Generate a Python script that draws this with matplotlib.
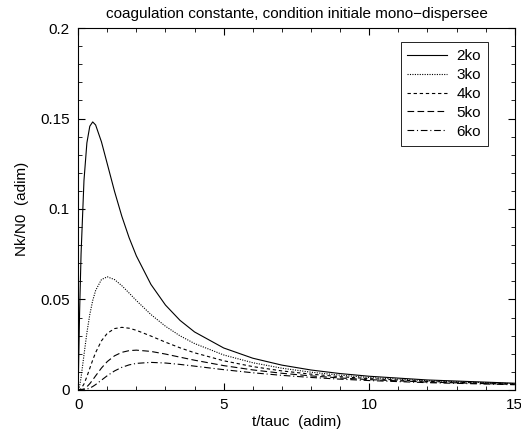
import numpy as np
import matplotlib
matplotlib.use('Agg')
import matplotlib.pyplot as plt
from matplotlib.ticker import MultipleLocator

plt.rcParams['font.family'] = ['Liberation Sans', 'DejaVu Sans']

# t/tauc sample points
t = [0, 0.05, 0.1, 0.2, 0.3, 0.4, 0.5, 0.6, 0.8, 1.0, 1.25, 1.5, 1.75, 2, 2.5,
     3, 3.5, 4, 5, 6, 7, 8, 9, 10, 12, 15]

# Nk/N0
n2 = [0, 0.04319, 0.07513, 0.11574, 0.13655, 0.14577, 0.14815, 0.14648, 0.13717,
      0.125, 0.10974, 0.096, 0.08415, 0.07407, 0.05831, 0.04688, 0.03841, 0.032,
      0.02315, 0.01749, 0.01367, 0.01097, 0.009, 0.007513, 0.005462, 0.003662]
n3 = [0, 0.002057, 0.00683, 0.01929, 0.03151, 0.04165, 0.04938, 0.05493, 0.06097,
      0.0625, 0.06097, 0.0576, 0.05355, 0.04938, 0.04165, 0.03516, 0.02987, 0.0256,
      0.01929, 0.01499, 0.01196, 0.00975, 0.0081, 0.00683, 0.005042, 0.003433]
n4 = [0, 0.0001, 0.000621, 0.003215, 0.007272, 0.0119, 0.01646, 0.0206, 0.0271,
      0.03125, 0.03387, 0.03456, 0.03408, 0.03292, 0.02975, 0.02637, 0.02323, 0.02048,
      0.01608, 0.01285, 0.01047, 0.00867, 0.00729, 0.006209, 0.004654, 0.003219]
n5 = [0, 0.000005, 0.000056, 0.000536, 0.001678, 0.0034, 0.005487, 0.007725, 0.01204,
      0.015625, 0.01882, 0.020736, 0.02168, 0.02195, 0.02125, 0.01978, 0.01807, 0.016384,
      0.0134, 0.01102, 0.00916, 0.00771, 0.006561, 0.005645, 0.004296, 0.003017]
n6 = [0, 0.0, 0.000005, 0.000089, 0.000387, 0.000971, 0.001829, 0.002897, 0.005352,
      0.0078125, 0.010454, 0.012442, 0.0138, 0.01463, 0.01518, 0.01483, 0.01406, 0.013107,
      0.01116, 0.00944, 0.00801, 0.00685, 0.005905, 0.005132, 0.003966, 0.002829]

labels = ['2ko', '3ko', '4ko', '5ko', '6ko']
styles = ['-', (0, (1, 1.2)), (0, (3, 2.5)), (0, (6, 3)), (0, (6, 2.5, 1, 2.5))]

xticks = [0, 5, 10, 15]
xticklabels = ['0', '5', '10', '15']
yticks = [0, 0.05, 0.1, 0.15, 0.2]
yticklabels = ['0', '0.05', '0.1', '0.15', '0.2']

fig = plt.figure(figsize=(5.21, 4.40), dpi=100)
ax = fig.add_axes([0.150, 0.114, 0.838, 0.822])

for y, lab, ls in zip([n2, n3, n4, n5, n6], labels, styles):
    ax.plot(t, y, color='black', linewidth=0.8, linestyle=ls, label=lab)

ax.set_xlim(0, 15)
ax.set_ylim(0, 0.2)
ax.set_xticks(xticks)
ax.set_xticklabels(xticklabels)
ax.set_yticks(yticks)
ax.set_yticklabels(yticklabels)
ax.xaxis.set_minor_locator(MultipleLocator(1))
ax.yaxis.set_minor_locator(MultipleLocator(0.01))
ax.tick_params(which='both', direction='in', top=True, right=True, labelsize=11)
ax.tick_params(which='major', length=5, width=0.8, pad=6)
ax.tick_params(which='minor', length=3, width=0.6)
for s in ax.spines.values():
    s.set_linewidth(0.8)

ax.set_xlabel('t/tauc  (adim)', fontsize=11, labelpad=2)
ax.set_ylabel('Nk/N0  (adim)', fontsize=11, labelpad=8)
ax.set_title('coagulation constante, condition initiale mono\u2212dispersee', fontsize=11, pad=7)

leg = ax.legend(loc='upper right', bbox_to_anchor=(0.938, 0.961), fontsize=11,
                fancybox=False, edgecolor='black', framealpha=1, borderaxespad=0,
                handlelength=2.6, labelspacing=0.32, borderpad=0.45, handletextpad=0.6)
leg.get_frame().set_linewidth(0.6)

fig.savefig('out.png', dpi=100)
